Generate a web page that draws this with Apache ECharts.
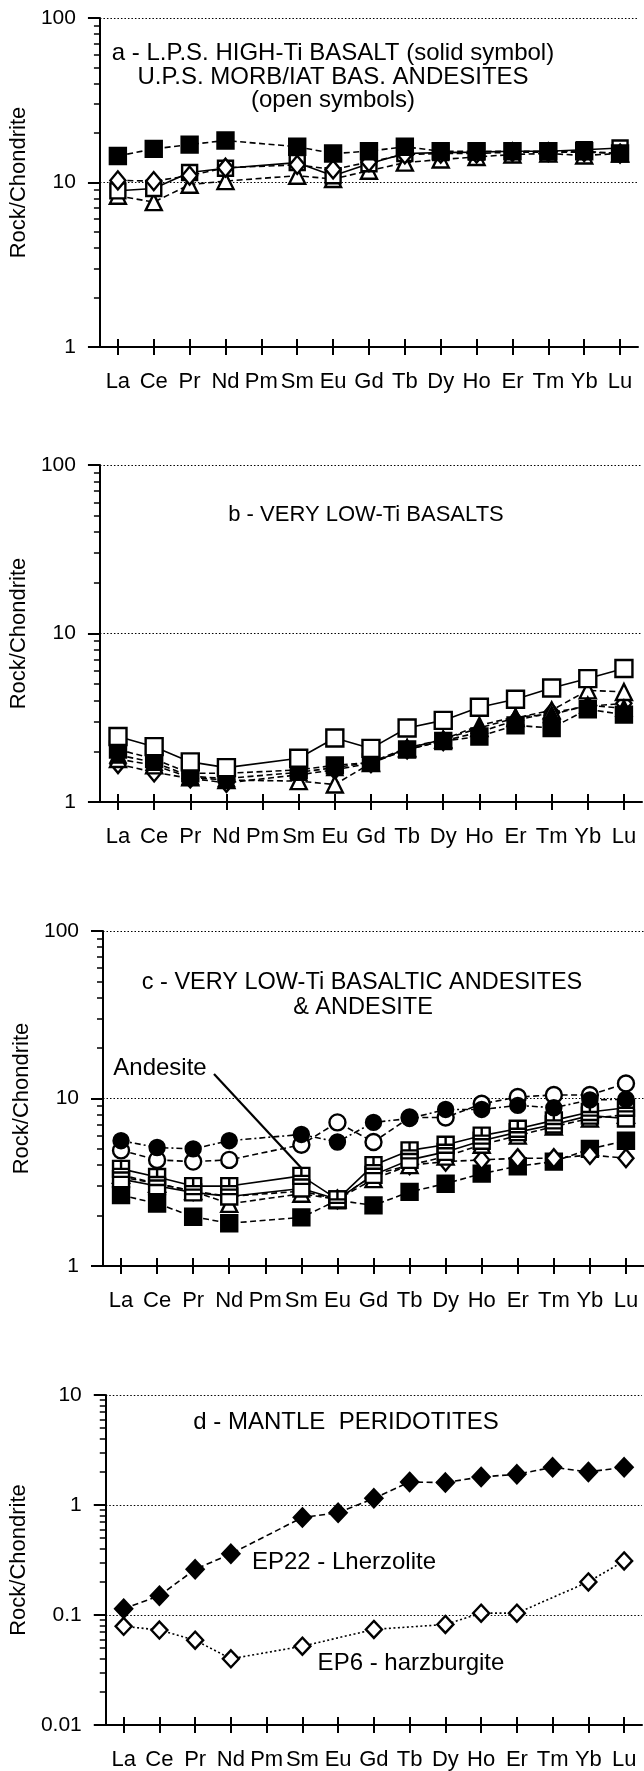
<!DOCTYPE html>
<html><head><meta charset="utf-8">
<script src="https://cdn.jsdelivr.net/npm/echarts@6/dist/echarts.min.js"></script>
<style>html,body{margin:0;padding:0;background:#fff}#c{width:644px;height:1771px}</style>
</head><body><div id="c"></div>
<script>
// ---------- data ----------
const categories = ['La','Ce','Pr','Nd','Pm','Sm','Eu','Gd','Tb','Dy','Ho','Er','Tm','Yb','Lu'];

// panel a
const aSolidSquare  = [14.5, 16, 17, 18, null, 16.5, 15, 15.5, 16.5, 15.5, 15.5, 15.5, 15.5, 15.5, 15];
const aOpenDiamond  = [10.3, 10.2, 11, 12.3, null, 12.8, 12, 13.3, 14.8, 15, 15, 15.3, 15.3, 15.3, 15];
const aOpenSquare   = [8.9, 9.2, 11.5, 12.2, null, 13.2, 11, 13, 15, 15.2, 15.3, 15.5, 15.5, 15.8, 16.2];
const aOpenTriangle = [8.3, 7.6, 9.7, 10.2, null, 11, 10.5, 11.8, 13.2, 13.8, 14.3, 14.8, 15, 14.6, 15];

// panel b
const bOpenSquare    = [2.45, 2.13, 1.73, 1.6, null, 1.82, 2.4, 2.08, 2.75, 3.05, 3.65, 4.07, 4.75, 5.4, 6.2];
const bSolidSquare   = [2.05, 1.8, 1.48, 1.48, null, 1.55, 1.65, 1.72, 2.05, 2.3, 2.45, 2.85, 2.75, 3.55, 3.3];
const bSolidTriangle = [1.9, 1.72, 1.42, 1.38, null, 1.5, 1.6, 1.72, 2.1, 2.35, 2.85, 3.2, 3.3, 3.75, 3.6];
const bOpenTriangle  = [1.8, 1.65, 1.4, 1.35, null, 1.33, 1.27, 1.7, 2.08, 2.35, 2.75, 3.15, 3.5, 4.6, 4.5];
const bOpenDiamond   = [1.68, 1.5, 1.38, 1.3, null, 1.45, 1.55, 1.7, 2.05, 2.3, 2.6, 3.05, 3.4, 3.7, 3.85];

// panel c
const cSolidCircle  = [5.6, 5.1, 5.0, 5.6, null, 6.1, 5.5, 7.2, 7.6, 8.6, 8.6, 9.1, 8.8, 9.8, 9.9];
const cOpenCircle   = [4.9, 4.3, 4.2, 4.3, null, 5.3, 7.2, 5.5, 7.7, 7.7, 9.3, 10.2, 10.5, 10.5, 12.3];
const cCrossSquare  = [3.8, 3.4, 3.0, 3.0, null, 3.45, 2.5, 4.0, 4.9, 5.3, 6.0, 6.6, 7.4, 8.3, 8.8];
const cOpenSquare   = [3.3, 3.0, 2.75, 2.6, null, 2.9, 2.5, 3.5, 4.3, 4.8, 5.6, 6.3, 7.0, 7.9, 7.6];
const cOpenTriangle = [3.5, 3.1, 2.8, 2.35, null, 2.7, 2.5, 3.3, 4.0, 4.5, 5.3, 6.0, 6.8, 7.6, 8.0];
const cOpenDiamond  = [3.4, 3.1, 2.8, 2.6, null, 2.8, 2.5, 3.5, 4.0, 4.2, 4.3, 4.4, 4.4, 4.6, 4.4];
const cSolidSquare  = [2.65, 2.36, 1.97, 1.8, null, 1.95, 2.47, 2.3, 2.77, 3.1, 3.56, 3.94, 4.2, 5.0, 5.6];

// panel d
const dEP22 = [0.114, 0.15, 0.26, 0.36, null, 0.77, 0.85, 1.15, 1.62, 1.6, 1.8, 1.9, 2.2, 2.0, 2.2];
const dEP6  = [0.079, 0.073, 0.059, 0.040, null, 0.052, null, 0.074, null, 0.082, 0.104, 0.104, null, 0.2, 0.31];

// axis ranges and minor tick values
const rangeABC = [1, 100];
const rangeD = [0.01, 10];
const minorTicksABC = [2,3,4,5,6,7,8,9,20,30,40,50,60,70,80,90];
const minorTicksD = [0.02,0.03,0.04,0.05,0.06,0.07,0.08,0.09,0.2,0.3,0.4,0.5,0.6,0.7,0.8,0.9,2,3,4,5,6,7,8,9];

// ---------- styling / layout ----------
const FONT = '"Liberation Sans", Arial, Helvetica, sans-serif';
const H = 1771;
const grids = [
  {left: 91,  right: 6, top: 18,   bottom: H - 347},
  {left: 99,  right: 2,  top: 465,  bottom: H - 802},
  {left: 103, right: 0,  top: 931,  bottom: H - 1266},
  {left: 96,  right: 2,  top: 1395, bottom: H - 1728}
];
const ranges = [rangeABC, rangeABC, rangeABC, rangeD];
const minors = [minorTicksABC, minorTicksABC, minorTicksABC, minorTicksD];
const nameGaps = [48, 54, 54, 52];

const SQ = 'rect';
const CROSSSQ = 'path://M1,1H19V19H1Z M10,1V10 M1,10H19 M1,14H19';

const xAxes = [], yAxes = [];
grids.forEach((g, i) => {
  xAxes.push({
    type: 'category', gridIndex: i, data: categories, boundaryGap: true, position: 'bottom',
    axisLine: {show: true, lineStyle: {color: '#000', width: 2}},
    axisTick: {show: true, alignWithLabel: true, length: 8, lineStyle: {color: '#000', width: 2}},
    axisLabel: {show: true, color: '#000', fontSize: 22, fontFamily: FONT, margin: 24, interval: 0},
    splitLine: {show: false}
  });
  xAxes.push({
    type: 'category', gridIndex: i, data: categories, boundaryGap: true, position: 'bottom',
    axisLine: {show: false},
    axisTick: {show: true, alignWithLabel: true, inside: true, length: 8, lineStyle: {color: '#000', width: 2}},
    axisLabel: {show: false}, splitLine: {show: false}
  });
  yAxes.push({
    type: 'log', gridIndex: i, min: ranges[i][0], max: ranges[i][1], position: 'left',
    name: 'Rock/Chondrite', nameLocation: 'middle', nameGap: nameGaps[i],
    nameTextStyle: {color: '#000', fontSize: 22, fontFamily: FONT},
    axisLine: {show: true, lineStyle: {color: '#000', width: 2}},
    axisTick: {show: true, length: 12, lineStyle: {color: '#000', width: 2}},
    axisLabel: {show: true, color: '#000', fontSize: 21, fontFamily: FONT, margin: 24},
    splitLine: {show: true, lineStyle: {color: '#000', width: 1.2, type: [1.5, 2]}}
  });
  yAxes.push({
    type: 'log', gridIndex: i, min: ranges[i][0], max: ranges[i][1], position: 'left',
    axisLine: {show: false}, axisLabel: {show: false}, splitLine: {show: false},
    axisTick: {show: true, length: 6, customValues: minors[i], lineStyle: {color: '#000', width: 1.5}}
  });
});

const DASH = [6, 3.5], DOT = [2, 2.5], DASHDOT = [6, 3, 2, 3];
function ser(name, data, gi, symbol, filled, dash, size) {
  return {
    type: 'line', name, data, xAxisIndex: gi * 2, yAxisIndex: gi * 2,
    symbol, symbolSize: size, showAllSymbol: true, connectNulls: true, animation: false,
    lineStyle: {color: '#000', width: 1.6, type: dash},
    itemStyle: {color: filled ? '#000' : '#fff', borderColor: '#000', borderWidth: 2.4},
    emphasis: {disabled: true}
  };
}

const series = [
  ser('a open triangle', aOpenTriangle, 0, 'triangle', false, DASH, 16),
  ser('a open square', aOpenSquare, 0, SQ, false, 'solid', 15),
  ser('a open diamond', aOpenDiamond, 0, 'diamond', false, DASH, [15, 18]),
  ser('a solid square', aSolidSquare, 0, SQ, true, DASH, 16),

  ser('b open diamond', bOpenDiamond, 1, 'diamond', false, DASH, [15, 18]),
  ser('b open triangle', bOpenTriangle, 1, 'triangle', false, DASH, 16),
  ser('b solid triangle', bSolidTriangle, 1, 'triangle', true, DASH, 15),
  ser('b solid square', bSolidSquare, 1, SQ, true, DASH, 16),
  ser('b open square', bOpenSquare, 1, SQ, false, 'solid', 17),

  ser('c solid square', cSolidSquare, 2, SQ, true, DASH, 16),
  ser('c open diamond', cOpenDiamond, 2, 'diamond', false, DASH, [15, 18]),
  ser('c open triangle', cOpenTriangle, 2, 'triangle', false, DASH, 16),
  ser('c open square', cOpenSquare, 2, SQ, false, 'solid', 16),
  ser('c cross square', cCrossSquare, 2, CROSSSQ, false, 'solid', 16),
  ser('c open circle', cOpenCircle, 2, 'circle', false, DASH, 16),
  ser('c solid circle', cSolidCircle, 2, 'circle', true, DASHDOT, 15),

  ser('EP22 - Lherzolite', dEP22, 3, 'diamond', true, DASH, [17, 18]),
  ser('EP6 - harzburgite', dEP6, 3, 'diamond', false, DOT, [16, 17])
];

function txt(text, x, y, size) {
  return {type: 'text', x, y, silent: true, z: 50,
    style: {text, fill: '#000', font: size + 'px ' + FONT, align: 'center', verticalAlign: 'middle'}};
}
const labels = [
  txt('a - L.P.S. HIGH-Ti BASALT (solid symbol)', 333, 53, 24),
  txt('U.P.S. MORB/IAT BAS. ANDESITES', 333, 77, 24),
  txt('(open symbols)', 333, 100, 24),
  txt('b - VERY LOW-Ti BASALTS', 366, 515, 22),
  txt('c - VERY LOW-Ti BASALTIC ANDESITES', 362, 983, 23.5),
  txt('& ANDESITE', 363, 1008, 23.5),
  txt('Andesite', 160, 1068, 24),
  txt('d - MANTLE  PERIDOTITES', 346, 1422, 24),
  txt('EP22 - Lherzolite', 344, 1562, 24),
  txt('EP6 - harzburgite', 411, 1663, 24)
];

const chart = echarts.init(document.getElementById('c'), null, {renderer: 'canvas'});
chart.setOption({
  backgroundColor: '#fff',
  animation: false,
  textStyle: {fontFamily: FONT},
  grid: grids,
  xAxis: xAxes,
  yAxis: yAxes,
  series,
  graphic: labels
});

// leader line from the "Andesite" label to the andesite Sm point
const end = chart.convertToPixel({xAxisIndex: 4, yAxisIndex: 4}, [categories[5], cCrossSquare[5]]);
chart.setOption({graphic: labels.concat([{
  type: 'line', silent: true, z: 40,
  shape: {x1: 214, y1: 1074, x2: end[0], y2: end[1] - 8},
  style: {stroke: '#000', lineWidth: 2.2}
}])});
</script>
</body></html>
